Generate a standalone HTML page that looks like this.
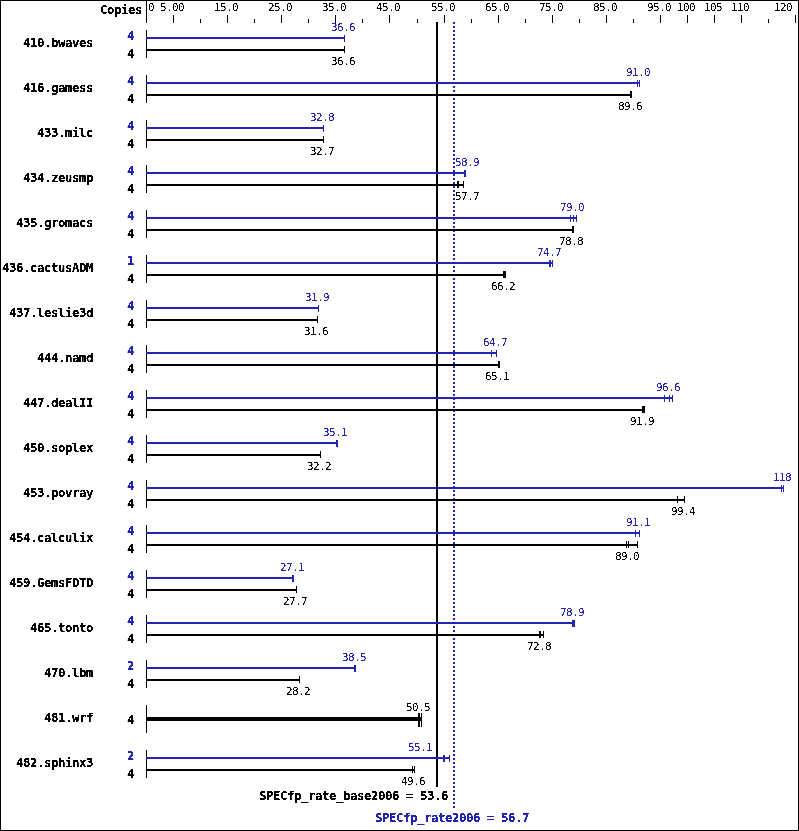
<!DOCTYPE html>
<html><head><meta charset="utf-8"><title>SPECfp_rate2006</title>
<style>
html,body{margin:0;padding:0;background:#fff;overflow:hidden}
#c{position:relative;width:799px;height:831px;overflow:hidden;background:#fff}
#c i{position:absolute;display:block}
#c span{position:absolute;display:block;white-space:pre;line-height:16px;height:16px;color:#000}
#c .s{font-family:"DejaVu Sans Mono","Liberation Mono",monospace;font-size:11.0px;letter-spacing:-0.6225px;font-weight:normal}
#c .b{font-family:"DejaVu Sans Mono","Liberation Mono",monospace;font-size:12.3px;letter-spacing:-0.4052px;font-weight:bold}
#c .p{color:#2424b4}
.t{position:absolute;left:0;top:0;width:799px;height:831px}
.t.f{filter:url(#th)}
.t.g{filter:url(#tb)}
</style></head>
<body><div id="c">
<svg width="0" height="0" style="position:absolute"><defs>
<filter id="th" x="0" y="0" width="100%" height="100%" color-interpolation-filters="sRGB"><feComponentTransfer><feFuncA type="linear" slope="10" intercept="-4.3"/></feComponentTransfer></filter>
<filter id="tb" x="0" y="0" width="100%" height="100%" color-interpolation-filters="sRGB"><feComponentTransfer><feFuncA type="linear" slope="10" intercept="-3.5"/></feComponentTransfer></filter>
</defs></svg>
<i style="left:0px;top:0px;width:799px;height:1px;background:#000"></i>
<i style="left:0px;top:830px;width:799px;height:1px;background:#000"></i>
<i style="left:0px;top:0px;width:1px;height:831px;background:#000"></i>
<i style="left:798px;top:0px;width:1px;height:831px;background:#000"></i>
<i style="left:146px;top:0px;width:1px;height:23px;background:#000"></i>
<i style="left:173px;top:15px;width:1px;height:8px;background:#000"></i>
<i style="left:200px;top:19px;width:1px;height:4px;background:#000"></i>
<i style="left:227px;top:15px;width:1px;height:8px;background:#000"></i>
<i style="left:254px;top:19px;width:1px;height:4px;background:#000"></i>
<i style="left:281px;top:15px;width:1px;height:8px;background:#000"></i>
<i style="left:308px;top:19px;width:1px;height:4px;background:#000"></i>
<i style="left:335px;top:15px;width:1px;height:8px;background:#000"></i>
<i style="left:362px;top:19px;width:1px;height:4px;background:#000"></i>
<i style="left:389px;top:15px;width:1px;height:8px;background:#000"></i>
<i style="left:417px;top:19px;width:1px;height:4px;background:#000"></i>
<i style="left:444px;top:15px;width:1px;height:8px;background:#000"></i>
<i style="left:471px;top:19px;width:1px;height:4px;background:#000"></i>
<i style="left:498px;top:15px;width:1px;height:8px;background:#000"></i>
<i style="left:525px;top:19px;width:1px;height:4px;background:#000"></i>
<i style="left:552px;top:15px;width:1px;height:8px;background:#000"></i>
<i style="left:579px;top:19px;width:1px;height:4px;background:#000"></i>
<i style="left:606px;top:15px;width:1px;height:8px;background:#000"></i>
<i style="left:633px;top:19px;width:1px;height:4px;background:#000"></i>
<i style="left:660px;top:15px;width:1px;height:8px;background:#000"></i>
<i style="left:687px;top:15px;width:1px;height:8px;background:#000"></i>
<i style="left:714px;top:15px;width:1px;height:8px;background:#000"></i>
<i style="left:741px;top:15px;width:1px;height:8px;background:#000"></i>
<i style="left:768px;top:19px;width:1px;height:4px;background:#000"></i>
<i style="left:795px;top:15px;width:1px;height:8px;background:#000"></i>
<i style="left:436px;top:22px;width:2px;height:765px;background:#000"></i>
<i style="left:453px;top:22px;width:2px;height:786px;background:repeating-linear-gradient(to bottom,#2424b4 0,#2424b4 2px,transparent 2px,transparent 4px)"></i>
<i style="left:146px;top:30px;width:1px;height:28px;background:#000"></i>
<i style="left:146px;top:49px;width:199px;height:2px;background:#000"></i>
<i style="left:344px;top:46px;width:1px;height:7px;background:#000"></i>
<i style="left:146px;top:37px;width:199px;height:2px;background:#2424b4"></i>
<i style="left:344px;top:35px;width:1px;height:7px;background:#2424b4"></i>
<i style="left:146px;top:75px;width:1px;height:28px;background:#000"></i>
<i style="left:146px;top:94px;width:486px;height:2px;background:#000"></i>
<i style="left:630px;top:91px;width:1px;height:7px;background:#000"></i>
<i style="left:631px;top:91px;width:1px;height:7px;background:#000"></i>
<i style="left:146px;top:82px;width:494px;height:2px;background:#2424b4"></i>
<i style="left:637px;top:80px;width:1px;height:7px;background:#2424b4"></i>
<i style="left:639px;top:80px;width:1px;height:7px;background:#2424b4"></i>
<i style="left:146px;top:120px;width:1px;height:28px;background:#000"></i>
<i style="left:146px;top:139px;width:178px;height:2px;background:#000"></i>
<i style="left:323px;top:136px;width:1px;height:7px;background:#000"></i>
<i style="left:146px;top:127px;width:178px;height:2px;background:#2424b4"></i>
<i style="left:323px;top:125px;width:1px;height:7px;background:#2424b4"></i>
<i style="left:146px;top:165px;width:1px;height:28px;background:#000"></i>
<i style="left:146px;top:184px;width:318px;height:2px;background:#000"></i>
<i style="left:457px;top:181px;width:1px;height:7px;background:#000"></i>
<i style="left:458px;top:181px;width:1px;height:7px;background:#000"></i>
<i style="left:463px;top:181px;width:1px;height:7px;background:#000"></i>
<i style="left:146px;top:172px;width:320px;height:2px;background:#2424b4"></i>
<i style="left:464px;top:170px;width:1px;height:7px;background:#2424b4"></i>
<i style="left:465px;top:170px;width:1px;height:7px;background:#2424b4"></i>
<i style="left:146px;top:210px;width:1px;height:28px;background:#000"></i>
<i style="left:146px;top:229px;width:428px;height:2px;background:#000"></i>
<i style="left:572px;top:226px;width:1px;height:7px;background:#000"></i>
<i style="left:573px;top:226px;width:1px;height:7px;background:#000"></i>
<i style="left:146px;top:217px;width:431px;height:2px;background:#2424b4"></i>
<i style="left:570px;top:215px;width:1px;height:7px;background:#2424b4"></i>
<i style="left:573px;top:215px;width:1px;height:7px;background:#2424b4"></i>
<i style="left:576px;top:215px;width:1px;height:7px;background:#2424b4"></i>
<i style="left:146px;top:255px;width:1px;height:28px;background:#000"></i>
<i style="left:146px;top:274px;width:360px;height:2px;background:#000"></i>
<i style="left:503px;top:271px;width:1px;height:7px;background:#000"></i>
<i style="left:504px;top:271px;width:1px;height:7px;background:#000"></i>
<i style="left:505px;top:271px;width:1px;height:7px;background:#000"></i>
<i style="left:146px;top:262px;width:407px;height:2px;background:#2424b4"></i>
<i style="left:549px;top:260px;width:1px;height:7px;background:#2424b4"></i>
<i style="left:550px;top:260px;width:1px;height:7px;background:#2424b4"></i>
<i style="left:552px;top:260px;width:1px;height:7px;background:#2424b4"></i>
<i style="left:146px;top:300px;width:1px;height:28px;background:#000"></i>
<i style="left:146px;top:319px;width:172px;height:2px;background:#000"></i>
<i style="left:317px;top:316px;width:1px;height:7px;background:#000"></i>
<i style="left:146px;top:307px;width:173px;height:2px;background:#2424b4"></i>
<i style="left:318px;top:305px;width:1px;height:7px;background:#2424b4"></i>
<i style="left:146px;top:345px;width:1px;height:28px;background:#000"></i>
<i style="left:146px;top:364px;width:354px;height:2px;background:#000"></i>
<i style="left:498px;top:361px;width:1px;height:7px;background:#000"></i>
<i style="left:499px;top:361px;width:1px;height:7px;background:#000"></i>
<i style="left:146px;top:352px;width:351px;height:2px;background:#2424b4"></i>
<i style="left:491px;top:350px;width:1px;height:7px;background:#2424b4"></i>
<i style="left:496px;top:350px;width:1px;height:7px;background:#2424b4"></i>
<i style="left:146px;top:390px;width:1px;height:28px;background:#000"></i>
<i style="left:146px;top:409px;width:499px;height:2px;background:#000"></i>
<i style="left:642px;top:406px;width:1px;height:7px;background:#000"></i>
<i style="left:643px;top:406px;width:1px;height:7px;background:#000"></i>
<i style="left:644px;top:406px;width:1px;height:7px;background:#000"></i>
<i style="left:146px;top:397px;width:527px;height:2px;background:#2424b4"></i>
<i style="left:664px;top:395px;width:1px;height:7px;background:#2424b4"></i>
<i style="left:669px;top:395px;width:1px;height:7px;background:#2424b4"></i>
<i style="left:672px;top:395px;width:1px;height:7px;background:#2424b4"></i>
<i style="left:146px;top:435px;width:1px;height:28px;background:#000"></i>
<i style="left:146px;top:454px;width:175px;height:2px;background:#000"></i>
<i style="left:320px;top:451px;width:1px;height:7px;background:#000"></i>
<i style="left:146px;top:442px;width:192px;height:2px;background:#2424b4"></i>
<i style="left:336px;top:440px;width:1px;height:7px;background:#2424b4"></i>
<i style="left:337px;top:440px;width:1px;height:7px;background:#2424b4"></i>
<i style="left:146px;top:480px;width:1px;height:28px;background:#000"></i>
<i style="left:146px;top:499px;width:539px;height:2px;background:#000"></i>
<i style="left:677px;top:496px;width:1px;height:7px;background:#000"></i>
<i style="left:684px;top:496px;width:1px;height:7px;background:#000"></i>
<i style="left:146px;top:487px;width:638px;height:2px;background:#2424b4"></i>
<i style="left:781px;top:485px;width:1px;height:7px;background:#2424b4"></i>
<i style="left:783px;top:485px;width:1px;height:7px;background:#2424b4"></i>
<i style="left:146px;top:525px;width:1px;height:28px;background:#000"></i>
<i style="left:146px;top:544px;width:492px;height:2px;background:#000"></i>
<i style="left:626px;top:541px;width:1px;height:7px;background:#000"></i>
<i style="left:628px;top:541px;width:1px;height:7px;background:#000"></i>
<i style="left:637px;top:541px;width:1px;height:7px;background:#000"></i>
<i style="left:146px;top:532px;width:494px;height:2px;background:#2424b4"></i>
<i style="left:635px;top:530px;width:1px;height:7px;background:#2424b4"></i>
<i style="left:639px;top:530px;width:1px;height:7px;background:#2424b4"></i>
<i style="left:146px;top:570px;width:1px;height:28px;background:#000"></i>
<i style="left:146px;top:589px;width:151px;height:2px;background:#000"></i>
<i style="left:296px;top:586px;width:1px;height:7px;background:#000"></i>
<i style="left:146px;top:577px;width:148px;height:2px;background:#2424b4"></i>
<i style="left:292px;top:575px;width:1px;height:7px;background:#2424b4"></i>
<i style="left:293px;top:575px;width:1px;height:7px;background:#2424b4"></i>
<i style="left:146px;top:615px;width:1px;height:28px;background:#000"></i>
<i style="left:146px;top:634px;width:398px;height:2px;background:#000"></i>
<i style="left:539px;top:631px;width:1px;height:7px;background:#000"></i>
<i style="left:540px;top:631px;width:1px;height:7px;background:#000"></i>
<i style="left:543px;top:631px;width:1px;height:7px;background:#000"></i>
<i style="left:146px;top:622px;width:429px;height:2px;background:#2424b4"></i>
<i style="left:572px;top:620px;width:1px;height:7px;background:#2424b4"></i>
<i style="left:573px;top:620px;width:1px;height:7px;background:#2424b4"></i>
<i style="left:574px;top:620px;width:1px;height:7px;background:#2424b4"></i>
<i style="left:146px;top:660px;width:1px;height:28px;background:#000"></i>
<i style="left:146px;top:679px;width:154px;height:2px;background:#000"></i>
<i style="left:299px;top:676px;width:1px;height:7px;background:#000"></i>
<i style="left:146px;top:667px;width:210px;height:2px;background:#2424b4"></i>
<i style="left:354px;top:665px;width:1px;height:7px;background:#2424b4"></i>
<i style="left:355px;top:665px;width:1px;height:7px;background:#2424b4"></i>
<i style="left:146px;top:705px;width:1px;height:28px;background:#000"></i>
<i style="left:146px;top:717px;width:276px;height:4px;background:#000"></i>
<i style="left:418px;top:713px;width:1px;height:14px;background:#000"></i>
<i style="left:419px;top:713px;width:1px;height:14px;background:#000"></i>
<i style="left:421px;top:713px;width:1px;height:14px;background:#000"></i>
<i style="left:146px;top:750px;width:1px;height:28px;background:#000"></i>
<i style="left:146px;top:769px;width:269px;height:2px;background:#000"></i>
<i style="left:412px;top:766px;width:1px;height:7px;background:#000"></i>
<i style="left:414px;top:766px;width:1px;height:7px;background:#000"></i>
<i style="left:146px;top:757px;width:304px;height:2px;background:#2424b4"></i>
<i style="left:443px;top:755px;width:1px;height:7px;background:#2424b4"></i>
<i style="left:444px;top:755px;width:1px;height:7px;background:#2424b4"></i>
<i style="left:449px;top:755px;width:1px;height:7px;background:#2424b4"></i>
<div class="t f">
<span class="s" style="left:148px;top:0px">0</span>
<span class="s" style="left:160px;top:0px">5.00</span>
<span class="s" style="left:214px;top:0px">15.0</span>
<span class="s" style="left:268px;top:0px">25.0</span>
<span class="s" style="left:322px;top:0px">35.0</span>
<span class="s" style="left:376px;top:0px">45.0</span>
<span class="s" style="left:431px;top:0px">55.0</span>
<span class="s" style="left:485px;top:0px">65.0</span>
<span class="s" style="left:539px;top:0px">75.0</span>
<span class="s" style="left:593px;top:0px">85.0</span>
<span class="s" style="left:647px;top:0px">95.0</span>
<span class="s" style="left:677px;top:0px">100</span>
<span class="s" style="left:704px;top:0px">105</span>
<span class="s" style="left:731px;top:0px">110</span>
<span class="s" style="left:774px;top:0px">120</span>
<span class="s" style="left:331px;top:54px">36.6</span>
<span class="s p" style="left:331px;top:20px">36.6</span>
<span class="s" style="left:618px;top:99px">89.6</span>
<span class="s p" style="left:626px;top:65px">91.0</span>
<span class="s" style="left:310px;top:144px">32.7</span>
<span class="s p" style="left:310px;top:110px">32.8</span>
<span class="s" style="left:455px;top:189px">57.7</span>
<span class="s p" style="left:455px;top:155px">58.9</span>
<span class="s" style="left:559px;top:234px">78.8</span>
<span class="s p" style="left:560px;top:200px">79.0</span>
<span class="s" style="left:491px;top:279px">66.2</span>
<span class="s p" style="left:537px;top:245px">74.7</span>
<span class="s" style="left:304px;top:324px">31.6</span>
<span class="s p" style="left:305px;top:290px">31.9</span>
<span class="s" style="left:485px;top:369px">65.1</span>
<span class="s p" style="left:483px;top:335px">64.7</span>
<span class="s" style="left:630px;top:414px">91.9</span>
<span class="s p" style="left:656px;top:380px">96.6</span>
<span class="s" style="left:307px;top:459px">32.2</span>
<span class="s p" style="left:323px;top:425px">35.1</span>
<span class="s" style="left:671px;top:504px">99.4</span>
<span class="s p" style="left:773px;top:470px">118</span>
<span class="s" style="left:615px;top:549px">89.0</span>
<span class="s p" style="left:626px;top:515px">91.1</span>
<span class="s" style="left:283px;top:594px">27.7</span>
<span class="s p" style="left:280px;top:560px">27.1</span>
<span class="s" style="left:527px;top:639px">72.8</span>
<span class="s p" style="left:560px;top:605px">78.9</span>
<span class="s" style="left:286px;top:684px">28.2</span>
<span class="s p" style="left:342px;top:650px">38.5</span>
<span class="s" style="left:406px;top:700px">50.5</span>
<span class="s" style="left:401px;top:774px">49.6</span>
<span class="s p" style="left:408px;top:740px">55.1</span>
</div>
<div class="t g">
<span class="b" style="left:100px;top:2px">Copies</span>
<span class="b" style="left:23px;top:35px">410.bwaves</span>
<span class="b" style="left:127px;top:46px">4</span>
<span class="b p" style="left:127px;top:28px">4</span>
<span class="b" style="left:23px;top:80px">416.gamess</span>
<span class="b" style="left:127px;top:91px">4</span>
<span class="b p" style="left:127px;top:73px">4</span>
<span class="b" style="left:37px;top:125px">433.milc</span>
<span class="b" style="left:127px;top:136px">4</span>
<span class="b p" style="left:127px;top:118px">4</span>
<span class="b" style="left:23px;top:170px">434.zeusmp</span>
<span class="b" style="left:127px;top:181px">4</span>
<span class="b p" style="left:127px;top:163px">4</span>
<span class="b" style="left:16px;top:215px">435.gromacs</span>
<span class="b" style="left:127px;top:226px">4</span>
<span class="b p" style="left:127px;top:208px">4</span>
<span class="b" style="left:2px;top:260px">436.cactusADM</span>
<span class="b" style="left:127px;top:271px">4</span>
<span class="b p" style="left:127px;top:253px">1</span>
<span class="b" style="left:9px;top:305px">437.leslie3d</span>
<span class="b" style="left:127px;top:316px">4</span>
<span class="b p" style="left:127px;top:298px">4</span>
<span class="b" style="left:37px;top:350px">444.namd</span>
<span class="b" style="left:127px;top:361px">4</span>
<span class="b p" style="left:127px;top:343px">4</span>
<span class="b" style="left:23px;top:395px">447.dealII</span>
<span class="b" style="left:127px;top:406px">4</span>
<span class="b p" style="left:127px;top:388px">4</span>
<span class="b" style="left:23px;top:440px">450.soplex</span>
<span class="b" style="left:127px;top:451px">4</span>
<span class="b p" style="left:127px;top:433px">4</span>
<span class="b" style="left:23px;top:485px">453.povray</span>
<span class="b" style="left:127px;top:496px">4</span>
<span class="b p" style="left:127px;top:478px">4</span>
<span class="b" style="left:9px;top:530px">454.calculix</span>
<span class="b" style="left:127px;top:541px">4</span>
<span class="b p" style="left:127px;top:523px">4</span>
<span class="b" style="left:9px;top:575px">459.GemsFDTD</span>
<span class="b" style="left:127px;top:586px">4</span>
<span class="b p" style="left:127px;top:568px">4</span>
<span class="b" style="left:30px;top:620px">465.tonto</span>
<span class="b" style="left:127px;top:631px">4</span>
<span class="b p" style="left:127px;top:613px">4</span>
<span class="b" style="left:44px;top:665px">470.lbm</span>
<span class="b" style="left:127px;top:676px">4</span>
<span class="b p" style="left:127px;top:658px">2</span>
<span class="b" style="left:44px;top:710px">481.wrf</span>
<span class="b" style="left:127px;top:712px">4</span>
<span class="b" style="left:16px;top:755px">482.sphinx3</span>
<span class="b" style="left:127px;top:766px">4</span>
<span class="b p" style="left:127px;top:748px">2</span>
<span class="b" style="left:259px;top:788px">SPECfp_rate_base2006 = 53.6</span>
<span class="b p" style="left:375px;top:810px">SPECfp_rate2006 = 56.7</span>
</div>
</div></body></html>
